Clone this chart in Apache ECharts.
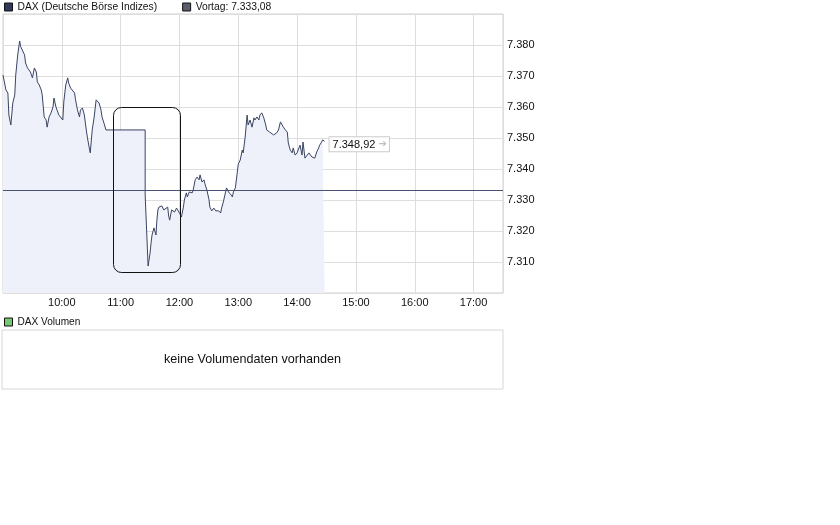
<!DOCTYPE html>
<html><head><meta charset="utf-8">
<script src="https://cdn.jsdelivr.net/npm/echarts@6/dist/echarts.min.js"></script>
<style>html,body{margin:0;padding:0;background:#fff}#c{width:840px;height:525px}</style>
</head><body><div id="c"></div>
<script>
// ---- data ----
const seriesName = 'DAX (Deutsche Börse Indizes)';
const volumeName = 'DAX Volumen';
const noVolumeText = 'keine Volumendaten vorhanden';
const vortag = 7333.08;
const times = ['9:00','9:03','9:05','9:06','9:08','9:10','9:12','9:13','9:15','9:17','9:18','9:20','9:22','9:23','9:25','9:28','9:30','9:32','9:34','9:35','9:37','9:39','9:40','9:42','9:44','9:45','9:47','9:49','9:51','9:52','9:54','9:56','9:57','9:59',
'10:01','10:02','10:04','10:06','10:07','10:09','10:11','10:13','10:14','10:16','10:18','10:19','10:21','10:23','10:24','10:26','10:28','10:29','10:31','10:33','10:35','10:36','10:38','10:40','10:41','10:43','10:45',
'11:25','11:25','11:28','11:30','11:31','11:32','11:34','11:36','11:37','11:38','11:39','11:41','11:42','11:44','11:46','11:48','11:49','11:50','11:52','11:54','11:55','11:57','11:58',
'12:00','12:02','12:04','12:05','12:07','12:08','12:10','12:13','12:14','12:16','12:18','12:20','12:21','12:23','12:25','12:26','12:28','12:30','12:31','12:33','12:35','12:37','12:38','12:40','12:42','12:43','12:45','12:47','12:48','12:50','12:52','12:54','12:55','12:57','12:59',
'13:00','13:02','13:04','13:05','13:07','13:09','13:10','13:12','13:14','13:16','13:17','13:19','13:21','13:22','13:24','13:26','13:28','13:29','13:31','13:32','13:36','13:39','13:41','13:43','13:44','13:46','13:48','13:50','13:51','13:53','13:55','13:56','13:58',
'14:00','14:01','14:03','14:05','14:06','14:08','14:10','14:12','14:13','14:15','14:17','14:18','14:20','14:22','14:23','14:25','14:26','14:28'];
const values = [7370.3,7365.5,7364.5,7357.4,7354.2,7361.3,7363.9,7370.3,7376.8,7381.3,7379.5,7380.0,7376.8,7374.2,7372.6,7371.3,7369.4,7372.6,7371.3,7368.1,7367.1,7365.5,7363.9,7356.8,7355.8,7353.5,7356.8,7358.1,7360.0,7362.9,7360.0,7359.7,7357.4,7356.8,
7355.8,7361.6,7367.1,7369.4,7367.7,7366.1,7366.5,7364.5,7362.3,7359.0,7356.8,7359.0,7359.7,7357.4,7354.8,7350.3,7346.8,7345.2,7352.6,7356.8,7362.3,7362.9,7361.3,7359.0,7356.8,7354.8,7352.6,
7352.6,7331.6,7308.7,7312.9,7316.1,7318.7,7321.0,7318.7,7323.5,7326.8,7327.7,7327.4,7328.1,7326.8,7327.4,7327.7,7324.8,7323.5,7326.8,7327.4,7326.1,7327.4,7326.8,
7325.8,7324.5,7327.7,7330.0,7332.3,7331.0,7332.6,7332.3,7333.2,7336.5,7337.4,7336.5,7338.1,7335.8,7336.5,7335.2,7333.2,7330.3,7327.7,7326.5,7327.4,7326.5,7326.1,7326.5,7325.8,7327.4,7329.7,7332.6,7333.9,7332.6,7331.9,7331.0,7332.6,7333.9,7339.0,
7341.6,7342.9,7346.1,7345.2,7350.3,7357.4,7354.2,7355.8,7353.5,7356.5,7355.8,7356.8,7355.8,7357.4,7358.1,7356.5,7354.2,7352.6,7353.2,7351.9,7351.0,7351.6,7352.6,7355.2,7354.8,7353.5,7352.6,7351.9,7348.4,7346.1,7345.2,7346.8,7344.5,
7345.2,7346.1,7347.7,7344.5,7348.7,7343.5,7343.9,7345.2,7345.5,7343.9,7344.5,7343.5,7345.5,7346.8,7347.7,7348.7,7349.4,7348.92];
const xTickLabels = ['10:00','11:00','12:00','13:00','14:00','15:00','16:00','17:00'];
const xRange = ['9:00','17:30'];
const yRange = [7300, 7390];
const yStep = 10;
// annotation box (time from, time to, low value, high value)
const boxFrom = '10:52', boxTo = '12:00', boxLow = 7306.8, boxHigh = 7360.0;

// ---- helpers ----
function toMin(t){const p=t.split(':');return (+p[0])*60+(+p[1]);}
function fmtTime(m){const h=Math.floor(m/60), mm=m%60;return h+':'+(mm<10?'0':'')+mm;}
function de(v,d){const s=v.toFixed(d).split('.');const ip=s[0].replace(/\B(?=(\d{3})+(?!\d))/g,'.');return d>0?ip+','+s[1]:ip;}

const data = times.map((t,i)=>[toMin(t), values[i]]);
const tickSet = new Set(xTickLabels.map(toMin));
const vortagName = 'Vortag: ' + de(vortag,2);
const FONT = '"Liberation Sans", Arial, sans-serif';

const chart = echarts.init(document.getElementById('c'), null, {renderer:'canvas'});
chart.setOption({
  animation:false,
  backgroundColor:'#fff',
  textStyle:{fontFamily:FONT},
  legend:[{
    data:[seriesName, vortagName],
    left:1, top:2, padding:[0,3], itemGap:25, itemWidth:8, itemHeight:8, itemTextGap:5,
    icon:'rect', selectedMode:false,
    itemStyle:{borderColor:'#111', borderWidth:1},
    textStyle:{fontSize:10.3, color:'#111', fontFamily:FONT}
  },{
    data:[volumeName],
    left:1, top:317, padding:[0,3], itemWidth:8, itemHeight:8, itemTextGap:5,
    icon:'rect', selectedMode:false,
    itemStyle:{borderColor:'#111', borderWidth:1},
    textStyle:{fontSize:10.1, color:'#111', fontFamily:FONT}
  }],
  grid:[
    {left:2, top:14, width:501, height:279, show:true, borderColor:'#cfcfcf', borderWidth:1, backgroundColor:'#fff'},
    {left:2, top:330, width:501, height:59, show:true, borderColor:'#d6d6d6', borderWidth:1, backgroundColor:'#fff'}
  ],
  xAxis:[
    {type:'value', gridIndex:0, min:toMin(xRange[0]), max:toMin(xRange[1]), interval:60,
     axisLine:{show:false}, axisTick:{show:false},
     splitLine:{show:true, lineStyle:{color:'#dedede', width:1}},
     axisLabel:{fontSize:11, color:'#111', margin:4, fontFamily:FONT,
       formatter:v=>tickSet.has(v)?fmtTime(v):''}},
    {type:'value', gridIndex:1, min:0, max:1, show:false}
  ],
  yAxis:[
    {type:'value', gridIndex:0, position:'right', min:yRange[0], max:yRange[1], interval:yStep,
     axisLine:{show:false}, axisTick:{show:false},
     splitLine:{show:true, lineStyle:{color:'#dedede', width:1}},
     axisLabel:{fontSize:11, color:'#111', margin:4, fontFamily:FONT,
       formatter:v=>(v>yRange[0] && v<yRange[1])?de(v,0):''}},
    {type:'value', gridIndex:1, min:0, max:1, show:false}
  ],
  series:[
    {name:seriesName, type:'line', xAxisIndex:0, yAxisIndex:0, data:data,
     showSymbol:false, symbol:'none', silent:true,
     color:'#2e3a5c',
     lineStyle:{color:'#3a4563', width:1},
     areaStyle:{color:'#eef1fa', opacity:1, origin:'start'},
     endLabel:{show:true, distance:5, offset:[0,3],
       formatter:p=>'{v|'+de(p.value[1],2)+'}{a| ➔}',
       backgroundColor:'#fff', borderColor:'#cccccc', borderWidth:1, padding:[2,2,1,3],
       rich:{v:{fontSize:11, color:'#111', fontFamily:FONT}, a:{fontSize:10, color:'#c0c0c0', fontFamily:'"DejaVu Sans", sans-serif'}}},
     z:3},
    {name:vortagName, type:'line', xAxisIndex:0, yAxisIndex:0, data:[],
     color:'#5a5e6c',
     markLine:{silent:true, symbol:['none','none'], label:{show:false},
       lineStyle:{color:'#4a5273', width:1, type:'solid'},
       data:[{yAxis:vortag}]},
     z:4},
    {name:volumeName, type:'bar', xAxisIndex:1, yAxisIndex:1, data:[], color:'#74c874'}
  ]
});

const p1 = chart.convertToPixel({xAxisIndex:0, yAxisIndex:0}, [toMin(boxFrom), boxHigh]);
const p2 = chart.convertToPixel({xAxisIndex:0, yAxisIndex:0}, [toMin(boxTo), boxLow]);
const vc = chart.convertToPixel({xAxisIndex:1, yAxisIndex:1}, [0.5, 0.5]);
chart.setOption({
  graphic:[
    {type:'rect', z:100, silent:true,
     shape:{x:Math.round(p1[0])+0.5, y:Math.round(p1[1])+0.5, width:Math.round(p2[0]-p1[0]), height:Math.round(p2[1]-p1[1]), r:8},
     style:{fill:'none', stroke:'#111', lineWidth:1}},
    {type:'text', z:100, silent:true, x:vc[0], y:vc[1],
     style:{text:noVolumeText, fill:'#111', font:'12.6px '+FONT, textAlign:'center', textVerticalAlign:'middle'}}
  ]
});
</script>
</body></html>
